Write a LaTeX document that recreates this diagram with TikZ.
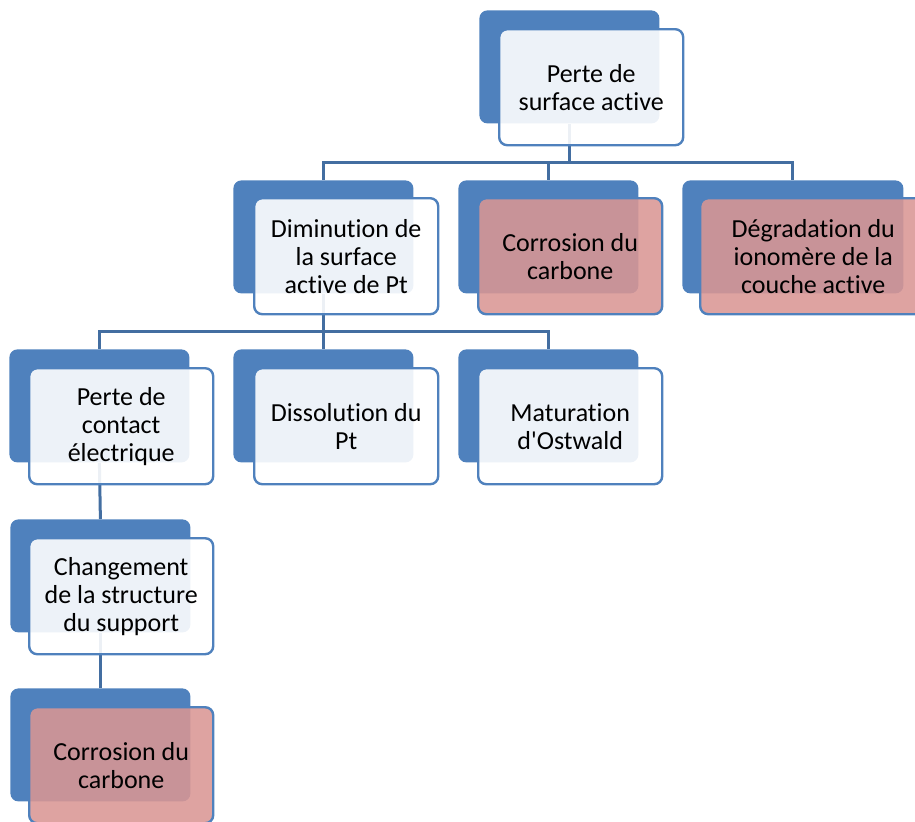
\documentclass[tikz,border=0pt]{standalone}
\usepackage{fontspec}
\setmainfont{Carlito}[Ligatures={TeXOff,NoCommon}]
\usetikzlibrary{positioning,calc}
\definecolor{accblue}{HTML}{4F81BD}
\definecolor{accred}{HTML}{D99694}
\tikzset{
  back/.style={rectangle, fill=accblue, rounded corners=4pt, inner sep=0pt, anchor=north west, minimum width=90pt, minimum height=56.5pt},
  front/.style={rectangle, draw=accblue, line width=1.2pt, fill=white, fill opacity=0.9, text opacity=1, rounded corners=4pt, inner sep=0pt, anchor=north west, minimum width=92pt, minimum height=58pt, align=center, font=\fontsize{13}{14}\selectfont},
  frontred/.style={front, fill=accred, fill opacity=0.88},
  link/.style={draw=accblue!85!black, line width=1.5pt}
}
\begin{document}
\begin{tikzpicture}[x=0.5pt, y=-0.5pt]
  \clip (0,0) rectangle (915,821);

  % back plates
  \node[back] (top-b) at (479,10) {};
  \node[back] (dimin-b) at (233,180) {};
  \node[back] (corr1-b) at (458,180) {};
  \node[back, minimum width=110.5pt] (degr-b) at (682,180) {};
  \node[back] (contact-b) at (9,349) {};
  \node[back] (dissol-b) at (233,349) {};
  \node[back] (matur-b) at (458,349) {};
  \node[back] (change-b) at (10,519) {};
  \node[back] (corr2-b) at (10,688) {};

  % links
  \path (top-b.south) ++(0,39) coordinate (bus1);
  \draw[link] (top-b.south) -- (bus1);
  \draw[link] (bus1) -| (dimin-b.north);
  \draw[link] (bus1) -| (corr1-b.north);
  \draw[link] (bus1) -| (degr-b.north);
  \path (dimin-b.south) ++(0,38) coordinate (bus2);
  \draw[link] (dimin-b.south) -- (bus2);
  \draw[link] (bus2) -| (contact-b.north);
  \draw[link] (bus2) -| (dissol-b.north);
  \draw[link] (bus2) -| (matur-b.north);
  \draw[link] (contact-b.south) -- (change-b.north);
  \draw[link] (change-b.south) -- (corr2-b.north);

  % front boxes
  \node[front] (top) at (498,28) {Perte de\\surface active};
  \node[front] (dimin) at (253,197) {Diminution de\\la surface\\active de Pt};
  \node[frontred] (corr1) at (477,197) {Corrosion du\\carbone};
  \node[frontred, minimum width=113pt] (degr) at (699,197) {Dégradation du\\ionomère de la\\couche active};
  \node[front] (contact) at (28,367) {Perte de\\contact\\électrique};
  \node[front] (dissol) at (253,367) {Dissolution du\\Pt};
  \node[front] (matur) at (477,367) {Maturation\\d'Ostwald};
  \node[front] (change) at (28,537) {Changement\\de la structure\\du support};
  \node[frontred] (corr2) at (28,706) {Corrosion du\\carbone};
\end{tikzpicture}
\end{document}
